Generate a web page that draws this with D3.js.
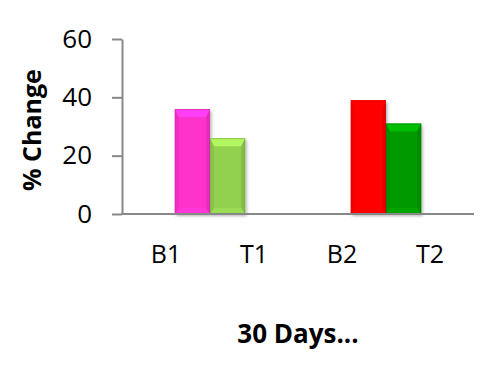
<!DOCTYPE html>
<html>
<head>
<meta charset="utf-8">
<script src="https://cdn.jsdelivr.net/npm/d3@7/dist/d3.min.js"></script>
<style>
  html, body { margin: 0; padding: 0; background: #fff; }
  svg { display: block; }
  text { font-family: "Open Sans", "Noto Sans", sans-serif; fill: #000; }
</style>
</head>
<body>
<svg id="chart" width="500" height="372"></svg>
<script>
// ---- data ----
const categories = ["B1", "T1", "B2", "T2"];
const values = [36, 26, 39, 31];
const barColors = ["#FF33CC", "#92D050", "#FF0000", "#009A00"];
const groups = ["Group 1", "Group 2"];
const yTicks = [0, 20, 40, 60];
const yLabel = "% Change";
const xTitle = "30 Days...";

// ---- layout ----
const svg = d3.select("#chart");
const plotL = 122, plotR = 474, plotT = 39, plotB = 214;

const y = d3.scaleLinear().domain([0, 60]).range([plotB, plotT]);
const xLabel = d3.scaleBand().domain(categories).range([plotL, plotR]);
const xGroup = d3.scaleBand().domain(groups).range([plotL, plotR]);
const barW = xGroup.bandwidth() * 0.2;

// shadow filter
const defs = svg.append("defs");
const f = defs.append("filter").attr("id", "shadow").attr("x", "-20%").attr("y", "-20%").attr("width", "150%").attr("height", "150%");
f.append("feDropShadow").attr("dx", 1.5).attr("dy", 2).attr("stdDeviation", 1.5).attr("flood-color", "#000").attr("flood-opacity", 0.3);

// ---- bars ----
const bars = values.map((v, i) => {
  const g = groups[Math.floor(i / 2)];
  const sub = i % 2;
  const cx = xGroup(g) + xGroup.bandwidth() / 2;
  return { v, i, x0: cx + (sub - 1) * barW, color: barColors[i] };
});

const bg = svg.append("g").selectAll("g").data(bars).join("g");
bg.each(function(d) {
  const g = d3.select(this);
  const x0 = d.x0, w = barW, y0 = y(d.v), y1 = y(0), h = y1 - y0;
  const b = 8, s = 4;
  const c = d3.color(d.color);
  g.append("rect").attr("x", x0).attr("y", y0).attr("width", w).attr("height", h)
    .attr("fill", d.color).attr("filter", "url(#shadow)");
  g.append("polygon")
    .attr("points", [[x0, y0], [x0 + w, y0], [x0 + w - s, y0 + b], [x0 + s, y0 + b]].map(p => p.join(",")).join(" "))
    .attr("fill", c.brighter(0.7).formatHex()).attr("opacity", 0.8);
  g.append("polygon")
    .attr("points", [[x0, y1], [x0 + w, y1], [x0 + w - s, y1 - b + 2], [x0 + s, y1 - b + 2]].map(p => p.join(",")).join(" "))
    .attr("fill", c.brighter(0.3).formatHex()).attr("opacity", 0.5);
  g.append("polygon")
    .attr("points", [[x0, y0], [x0 + s, y0 + b], [x0 + s, y1 - b + 2], [x0, y1]].map(p => p.join(",")).join(" "))
    .attr("fill", c.darker(0.4).formatHex()).attr("opacity", 0.45);
  g.append("polygon")
    .attr("points", [[x0 + w, y0], [x0 + w - s, y0 + b], [x0 + w - s, y1 - b + 2], [x0 + w, y1]].map(p => p.join(",")).join(" "))
    .attr("fill", c.darker(0.6).formatHex()).attr("opacity", 0.5);
  g.append("rect").attr("x", x0 + 0.5).attr("y", y0 + 0.5).attr("width", w - 1).attr("height", h - 1)
    .attr("fill", "none").attr("stroke", c.darker(0.5).formatHex()).attr("stroke-width", 1).attr("opacity", 0.6);
});

// ---- axes ----
const yAxis = svg.append("g").attr("transform", `translate(${plotL},0)`)
  .call(d3.axisLeft(y).tickValues(yTicks).tickSize(10).tickSizeOuter(0).tickPadding(20));
yAxis.select(".domain").attr("stroke", "#888").attr("stroke-width", 2);
yAxis.selectAll(".tick line").attr("stroke", "#888").attr("stroke-width", 2);
yAxis.selectAll(".tick text").attr("font-size", 26).attr("font-family", "Open Sans").attr("fill", "#000");

svg.append("line").attr("x1", plotL - 1).attr("x2", plotR).attr("y1", y(0)).attr("y2", y(0))
  .attr("stroke", "#888").attr("stroke-width", 2);

const xAxis = svg.append("g").attr("transform", `translate(0,${y(0)})`)
  .call(d3.axisBottom(xLabel).tickSize(0).tickPadding(31));
xAxis.select(".domain").remove();
xAxis.selectAll(".tick text").attr("font-size", 25).attr("font-family", "Open Sans").attr("fill", "#000");

// ---- titles ----
svg.append("text")
  .attr("transform", "translate(41,130) rotate(-90)")
  .attr("text-anchor", "middle")
  .attr("font-size", 25).attr("font-weight", "bold")
  .text(yLabel);

svg.append("text")
  .attr("x", 298).attr("y", 343)
  .attr("text-anchor", "middle")
  .attr("font-size", 26).attr("font-weight", "bold")
  .text(xTitle);
</script>
</body>
</html>
